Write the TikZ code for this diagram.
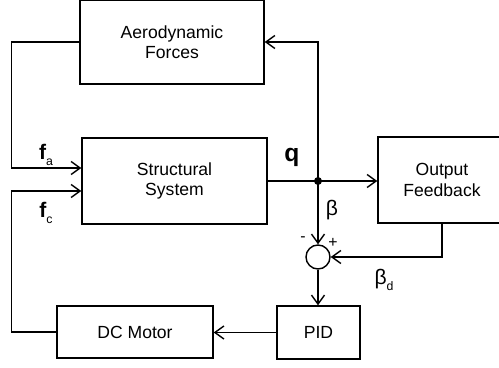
\documentclass[tikz,border=0pt]{standalone}
\usepackage{fontspec}
\setmainfont{Liberation Sans}
\usepackage{tikz}
\usetikzlibrary{arrows.meta,positioning,calc}
\definecolor{loopInk}{HTML}{000000}
\definecolor{loopPaper}{HTML}{FFFFFF}
\tikzset{
  block/.style={
    rectangle,
    draw=loopInk,
    fill=loopPaper,
    line width=0.8pt,
    align=center,
    inner sep=0pt,
    font=\fontsize{10}{11.5}\selectfont
  },
  sumjunction/.style={
    circle,
    draw=loopInk,
    line width=0.8pt,
    minimum size=4.8mm,
    inner sep=0pt
  },
  arrow/.style={
    -{Straight Barb[length=1.8mm,width=2.6mm,line width=0.8pt]},
    line width=0.8pt,
    draw=loopInk
  },
  wire/.style={
    line width=0.8pt,
    draw=loopInk
  },
  signal/.style={
    font=\fontsize{12}{14}\selectfont,
    text=loopInk,
    inner sep=0pt
  }
}

\begin{document}
\begin{tikzpicture}
  \useasboundingbox (0,0) rectangle (9.98,7.36);
  \node[block,minimum width=36.8mm,minimum height=16.8mm] (aero) at (3.44,6.52) {Aerodynamic\\Forces};
  \node[block,minimum width=37mm,minimum height=17.2mm] (sys) at (3.49,3.74) {Structural\\System};
  \node[block,minimum width=25.6mm,minimum height=17.2mm] (fb) at (8.84,3.76) {Output\\Feedback};
  \node[block,minimum width=31.2mm,minimum height=10.4mm] (motor) at (2.70,0.72) {DC Motor};
  \node[block,minimum width=16.6mm,minimum height=10.6mm] (pid) at (6.37,0.71) {PID};
  \node[sumjunction] (sum) at (6.36,2.22) {};
  \coordinate (junc) at (6.36,3.74);
  \fill[loopInk] (junc) circle (0.08);
  \draw[wire] (sys.east) -- (junc);
  \draw[arrow] (junc) -- (junc -| fb.west);
  \draw[arrow] (junc) |- (aero.east);
  \draw[arrow] (junc) -- (sum.north);
  \draw[arrow] (fb.south) |- (sum.east);
  \draw[arrow] (sum.south) -- (sum.south |- pid.north);
  \draw[arrow] (pid.west) -- (pid.west -| motor.east);
  \draw[arrow] (aero.west) -- ++(-1.36,0) |- ([yshift=2.6mm]sys.west);
  \draw[arrow] (motor.west) -- ++(-0.90,0) |- ([yshift=-2.0mm]sys.west);
  \node[signal] (fa) at (0.92,4.26) {\textbf{f}\raisebox{-3pt}{\fontsize{7}{8}\selectfont a}};
  \node[signal] (fc) at (0.92,3.10) {\textbf{f}\raisebox{-3pt}{\fontsize{7}{8}\selectfont c}};
  \node[signal,font=\fontsize{14}{16}\selectfont] (q) at (5.84,4.22) {\textbf{q}};
  \node[signal] (beta) at (6.64,3.16) {β};
  \node[signal] (betad) at (7.68,1.76) {β\raisebox{-3pt}{\fontsize{7}{8}\selectfont d}};
  \node[font=\fontsize{9}{10}\selectfont] (minus) at (6.06,2.58) {-};
  \node[font=\fontsize{9}{10}\selectfont] (plus) at (6.66,2.50) {+};
\end{tikzpicture}
\end{document}
